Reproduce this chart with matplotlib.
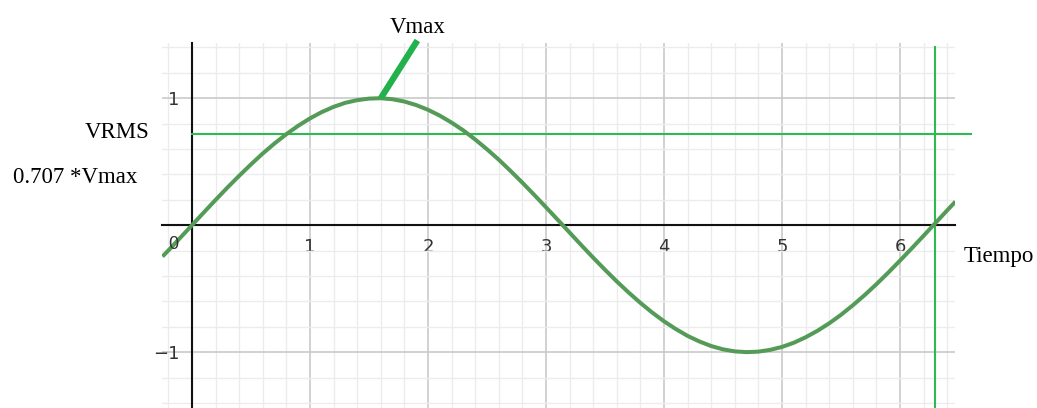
import matplotlib
matplotlib.use("Agg")
import matplotlib.pyplot as plt
from matplotlib.ticker import MultipleLocator, FixedLocator

# ---- data ----
tiempo = [-0.25, -0.2, -0.1, 0.0, 0.1, 0.2, 0.3, 0.4, 0.5, 0.6, 0.7, 0.8, 0.9,
          1.0, 1.1, 1.2, 1.3, 1.4, 1.5, 1.6, 1.7, 1.8, 1.9, 2.0, 2.1, 2.2, 2.3,
          2.4, 2.5, 2.6, 2.7, 2.8, 2.9, 3.0, 3.1, 3.2, 3.3, 3.4, 3.5, 3.6, 3.7,
          3.8, 3.9, 4.0, 4.1, 4.2, 4.3, 4.4, 4.5, 4.6, 4.7, 4.8, 4.9, 5.0, 5.1,
          5.2, 5.3, 5.4, 5.5, 5.6, 5.7, 5.8, 5.9, 6.0, 6.1, 6.2, 6.3, 6.4, 6.47]
voltaje = [-0.247, -0.199, -0.100, 0.0, 0.100, 0.199, 0.296, 0.389, 0.479, 0.565,
           0.644, 0.717, 0.783, 0.841, 0.891, 0.932, 0.964, 0.985, 0.997, 1.000,
           0.992, 0.974, 0.946, 0.909, 0.863, 0.808, 0.746, 0.675, 0.598, 0.516,
           0.427, 0.335, 0.239, 0.141, 0.042, -0.058, -0.158, -0.256, -0.351,
           -0.443, -0.530, -0.612, -0.688, -0.757, -0.818, -0.872, -0.916, -0.952,
           -0.978, -0.994, -1.000, -0.996, -0.982, -0.959, -0.926, -0.883, -0.832,
           -0.773, -0.706, -0.631, -0.551, -0.465, -0.374, -0.279, -0.182, -0.083,
           0.017, 0.117, 0.186]
vrms_level = 0.717
vrms_t = [0.0, 6.60]
periodo = 6.30
periodo_v = [-1.44, 1.40]
vmax_t = [1.60, 1.91]
vmax_v = [1.0, 1.455]
xtick_vals = [1, 2, 3, 4, 5, 6]
xtick_labels = ["1", "2", "3", "4", "5", "6"]
ytick_vals = [-1, 1]
ytick_labels = ["\u22121", "1"]

W, H = 1037, 408
fig = plt.figure(figsize=(W / 100, H / 100), dpi=100)
ax = fig.add_axes([162 / W, 0, (955 - 162) / W, (408 - 43) / H])
ax.set_xlim(-0.254, 6.466)
ax.set_ylim(-1.44, 1.435)

# grid
ax.xaxis.set_major_locator(FixedLocator(xtick_vals))
ax.yaxis.set_major_locator(FixedLocator(ytick_vals))
ax.xaxis.set_minor_locator(MultipleLocator(0.2))
ax.yaxis.set_minor_locator(MultipleLocator(0.2))
ax.grid(which="major", color="#c9c9c9", linewidth=1.2, zorder=0)
ax.grid(which="minor", color="#ececec", linewidth=1.0, zorder=0)
ax.set_axisbelow(True)

ax.set_xticklabels(xtick_labels)
ax.set_yticklabels(ytick_labels)
ax.tick_params(which="both", length=0)
ax.tick_params(axis="x", pad=9.0, labelsize=13, labelcolor="#333333")
ax.tick_params(axis="y", pad=9.0, labelsize=13, labelcolor="#333333")
for lab in ax.get_xticklabels() + ax.get_yticklabels():
    lab.set_fontfamily("Liberation Sans")

for s in ["top", "right"]:
    ax.spines[s].set_visible(False)
for s in ["left", "bottom"]:
    ax.spines[s].set_position(("data", 0))
    ax.spines[s].set_color("#111111")
    ax.spines[s].set_linewidth(1.5)

ax.text(-0.161, -0.155, "0", ha="center", va="center", fontsize=13,
        color="#333333", family="Liberation Sans", zorder=5)

# curve
ax.plot(tiempo, voltaje, color="#559b58", linewidth=2.9, solid_joinstyle="round",
        solid_capstyle="butt", zorder=4)

# VRMS line and period line
ax.plot(vrms_t, [vrms_level, vrms_level], color="#2fba4f", linewidth=1.5,
        clip_on=False, zorder=3)
ax.plot([periodo, periodo], periodo_v, color="#2fba4f", linewidth=1.5,
        clip_on=False, zorder=3)

# Vmax pointer
ax.plot(vmax_t, vmax_v, color="#22b24c", linewidth=4.5, solid_capstyle="butt",
        clip_on=False, zorder=5)

def ftext(x, y, s, ha="left"):
    fig.text(x / W, 1 - y / H, s, ha=ha, va="baseline", fontsize=16.5,
             family="Liberation Serif", color="black")

ftext(390, 33, "Vmax")
ftext(85, 138, "VRMS")
ftext(13, 183, "0.707 *Vmax")
ftext(964, 262, "Tiempo")

fig.savefig("out.png", dpi=100)
